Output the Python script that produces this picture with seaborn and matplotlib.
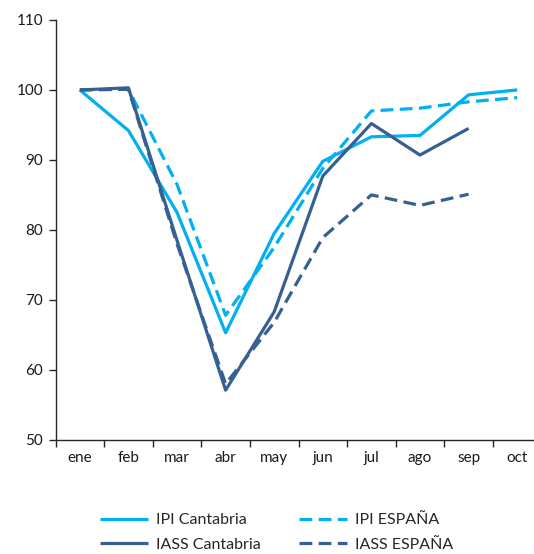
import matplotlib
matplotlib.use("Agg")
import matplotlib.pyplot as plt
import numpy as np
import pandas as pd
import seaborn as sns

# --- Data ---
meses = ['ene', 'feb', 'mar', 'abr', 'may', 'jun', 'jul', 'ago', 'sep', 'oct']
ipi_cantabria = [100, 94.2, 82.5, 65.3, 79.5, 89.8, 93.3, 93.5, 99.3, 100]
ipi_espana = [100, 100.1, 86.5, 67.8, 77.5, 88.8, 97.0, 97.4, 98.3, 98.9]
iass_cantabria = [100, 100.3, 78.5, 57.1, 68.3, 87.7, 95.2, 90.7, 94.5, np.nan]
iass_espana = [100, 100.1, 78.0, 58.0, 66.8, 78.9, 85.0, 83.5, 85.1, np.nan]

LIGHT = '#00B0F0'
DARK = '#366092'

series = [
    ('IPI Cantabria', ipi_cantabria, LIGHT, '-'),
    ('IPI ESPAÑA', ipi_espana, LIGHT, '--'),
    ('IASS Cantabria', iass_cantabria, DARK, '-'),
    ('IASS ESPAÑA', iass_espana, DARK, '--'),
]

sns.set_theme(style='white')
plt.rcParams['font.family'] = ['Lato', 'DejaVu Sans']

fig = plt.figure(figsize=(5.34, 5.54), dpi=100)
ax = fig.add_axes([0.104, 0.206, 0.91, 0.758])

x_pos = np.arange(len(meses))
handles = {}
for name, vals, col, ls in series:
    df = pd.DataFrame({'x': x_pos, 'y': vals})
    sns.lineplot(data=df, x='x', y='y', ax=ax, color=col, linewidth=2.3,
                 sort=False, label=name)
    line = ax.get_lines()[-1]
    if ls == '--':
        line.set_dashes([4, 2])
    line.set_solid_capstyle('butt')
    handles[name] = line

ax.get_legend().remove()

ax.set_xlim(-0.5, len(meses) - 0.5)
ax.set_ylim(50, 110)
ax.set_yticks(range(50, 111, 10))
ax.set_xticks(x_pos)
ax.set_xticklabels(meses)
ax.set_xticks(np.arange(-0.5, len(meses), 1), minor=True)
ax.set_xlabel('')
ax.set_ylabel('')

for s in ['top', 'right']:
    ax.spines[s].set_visible(False)
for s in ['left', 'bottom']:
    ax.spines[s].set_color('#262626')
    ax.spines[s].set_linewidth(1.0)

ax.tick_params(axis='x', which='major', length=0, pad=8, labelsize=11, colors='#1a1a1a')
ax.tick_params(axis='x', which='minor', length=5, width=1, color='#262626', direction='out', bottom=True)
ax.tick_params(axis='y', length=5, width=1, color='#262626', direction='out', left=True,
               labelsize=11, labelcolor='#1a1a1a', pad=4)

# legend fills column-wise: IPI/IASS Cantabria on the left, ESPAÑA on the right
names = ['IPI Cantabria', 'IASS Cantabria', 'IPI ESPAÑA', 'IASS ESPAÑA']
leg = fig.legend([handles[n] for n in names], names, loc='lower left',
                 bbox_to_anchor=(0.16, -0.022), ncol=2, frameon=False,
                 fontsize=11.5, handlelength=3.0, handletextpad=0.5,
                 columnspacing=2.4, labelspacing=0.65)

fig.savefig('out.png', dpi=100)
